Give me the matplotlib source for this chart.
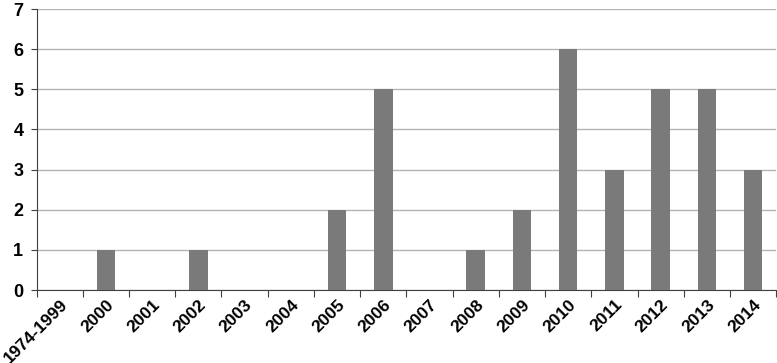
import matplotlib
matplotlib.use("Agg")
import matplotlib.pyplot as plt
import numpy as np

categories = ["1974-1999", "2000", "2001", "2002", "2003", "2004", "2005", "2006",
              "2007", "2008", "2009", "2010", "2011", "2012", "2013", "2014"]
counts = [0, 1, 0, 1, 0, 0, 2, 5, 0, 1, 2, 6, 3, 5, 5, 3]

plt.rcParams["font.family"] = ["Liberation Sans", "DejaVu Sans"]
plt.rcParams["font.weight"] = "bold"

fig = plt.figure(figsize=(7.77, 3.63), dpi=100)
ax = fig.add_axes([0.047, 0.201, 0.952, 0.774])

x = np.arange(len(categories))
ax.bar(x, counts, width=0.4, color="#7a7a7a", zorder=3)

ax.set_xlim(-0.5, len(categories) - 0.5)
ax.set_ylim(0, 7)
ax.set_yticks(range(0, 8))
ax.yaxis.grid(True, color="#b4b4b4", linewidth=1, zorder=0)

# category boundaries get the tick marks, labels sit at the centres
ax.set_xticks(np.arange(-0.5, len(categories), 1.0))
ax.set_xticklabels([])
ax.set_xticks(x, minor=True)
ax.set_xticklabels(categories, minor=True, rotation=45, ha="right", va="top",
                   rotation_mode="anchor", fontsize=12.5, fontweight="bold")
ax.tick_params(axis="x", which="minor", length=0, pad=5)
ax.tick_params(axis="x", which="major", length=5, color="#404040")
ax.tick_params(axis="y", length=4.5, color="#404040", labelsize=13, pad=5)
for lbl in ax.get_yticklabels():
    lbl.set_fontweight("bold")

ax.spines["top"].set_visible(False)
ax.spines["right"].set_visible(False)
ax.spines["left"].set_color("#404040")
ax.spines["bottom"].set_color("#404040")

fig.savefig("out.png", dpi=100)
